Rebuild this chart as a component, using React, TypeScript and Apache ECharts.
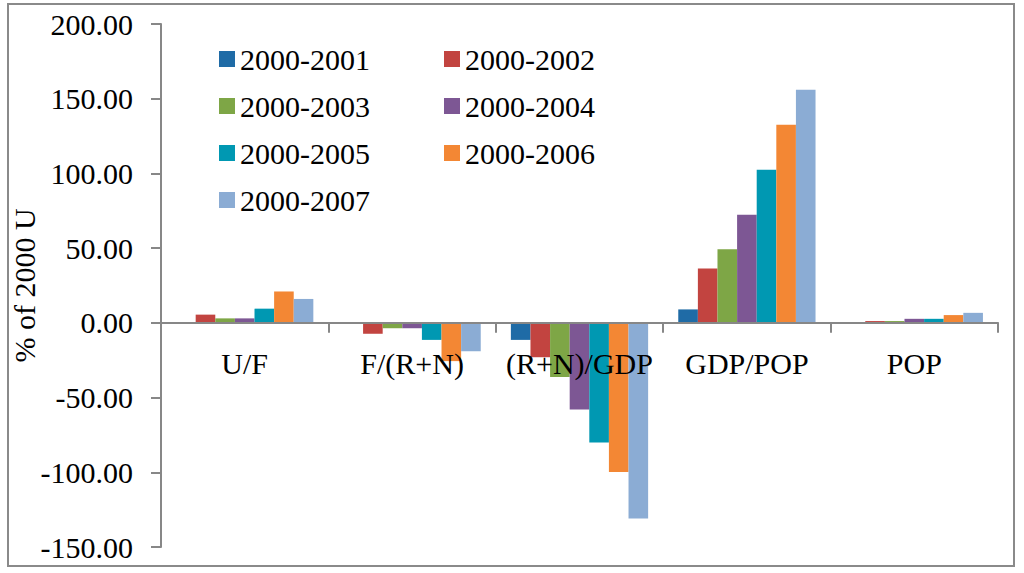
import React, { useEffect, useRef } from "react";
import * as echarts from "echarts";

const categories = ["U/F", "F/(R+N)", "(R+N)/GDP", "GDP/POP", "POP"];
const seriesNames = ["2000-2001", "2000-2002", "2000-2003", "2000-2004", "2000-2005", "2000-2006", "2000-2007"];
const s2001 = [0, 0, -11.4, 9.0, 0];
const s2002 = [5.5, -7.3, -23.0, 36.3, 1.2];
const s2003 = [3.0, -3.6, -36.3, 49.2, 1.2];
const s2004 = [3.0, -3.6, -58.0, 72.4, 2.7];
const s2005 = [9.5, -11.4, -80.0, 102.5, 2.7];
const s2006 = [21.0, -25.6, -99.8, 132.5, 5.2];
const s2007 = [16.0, -19.0, -131.0, 156.0, 6.7];
const seriesValues = [s2001, s2002, s2003, s2004, s2005, s2006, s2007];
const colors = ["#1F6BA6", "#C24440", "#7EA646", "#7D5794", "#0098B2", "#F38734", "#8BACD4"];
const yTicks = { min: -150, max: 200, interval: 50 };

const FONT = "Liberation Serif";

const GRID_TOP = 24;
const GRID_BOTTOM = 26;
const CHART_H = 573;

export default function App() {
  const ref = useRef<HTMLDivElement>(null);
  useEffect(() => {
    if (!ref.current) return;
    const chart = echarts.init(ref.current, undefined, { renderer: "svg" });
    const legendText = { fontSize: 30, fontFamily: FONT, color: "#000", lineHeight: 30 };
    const gridH = CHART_H - GRID_TOP - GRID_BOTTOM;
    const zeroFromBottom = ((0 - yTicks.min) / (yTicks.max - yTicks.min)) * gridH;
    chart.setOption({
      animation: false,
      backgroundColor: "#fff",
      color: colors,
      graphic: [
        {
          type: "rect",
          shape: { x: 8, y: 4, width: 1006, height: 562 },
          style: { fill: "none", stroke: "#8a8a8a", lineWidth: 2 },
          z: 0,
        },
      ],
      legend: [
        {
          orient: "vertical",
          left: 214,
          top: 39,
          itemWidth: 16,
          itemHeight: 16,
          itemGap: 17,
          icon: "rect",
          textStyle: legendText,
          data: [seriesNames[0], seriesNames[2], seriesNames[4], seriesNames[6]],
        },
        {
          orient: "vertical",
          left: 439,
          top: 39,
          itemWidth: 16,
          itemHeight: 16,
          itemGap: 17,
          icon: "rect",
          textStyle: legendText,
          data: [seriesNames[1], seriesNames[3], seriesNames[5]],
        },
      ],
      grid: {
        left: 161,
        right: 26,
        top: GRID_TOP,
        bottom: GRID_BOTTOM,
        containLabel: false,
        outerBoundsMode: "none",
      },
      xAxis: {
        type: "category",
        data: categories,
        z: 10,
        position: "bottom",
        offset: -zeroFromBottom,
        axisLine: { onZero: false, lineStyle: { color: "#878787", width: 2 } },
        axisTick: { show: true, length: 10, lineStyle: { color: "#878787", width: 2 } },
        axisLabel: { fontSize: 30, fontFamily: FONT, color: "#000", margin: 26, interval: 0 },
      },
      yAxis: {
        type: "value",
        min: yTicks.min,
        max: yTicks.max,
        interval: yTicks.interval,
        name: "% of 2000 U",
        nameLocation: "middle",
        nameGap: 122,
        nameMoveOverlap: false,
        nameTextStyle: { fontSize: 30, fontFamily: FONT, color: "#000" },
        axisLine: { show: true, lineStyle: { color: "#878787", width: 2 } },
        axisTick: { show: true, length: 10, lineStyle: { color: "#878787", width: 2 } },
        axisLabel: {
          fontSize: 30,
          fontFamily: FONT,
          color: "#000",
          margin: 28,
          formatter: (v: number) => v.toFixed(2),
        },
        splitLine: { show: false },
      },
      series: seriesNames.map((name, i) => ({
        name,
        type: "bar",
        data: seriesValues[i],
        barGap: "0%",
        barCategoryGap: "18%",
        itemStyle: { color: colors[i] },
      })),
    });
    return () => chart.dispose();
  }, []);
  return (
    <div
      ref={ref}
      style={{ position: "fixed", left: 0, top: 0, width: 1024, height: 573 }}
    />
  );
}
